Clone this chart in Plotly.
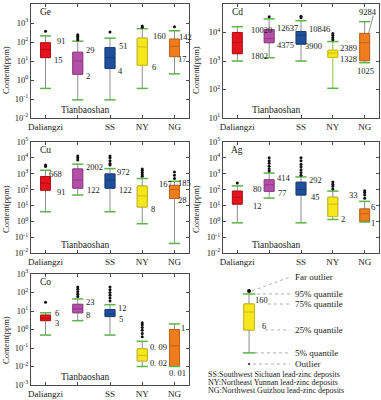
import math
import plotly.graph_objects as go

# ---------------- data ----------------
groups = ["Daliangzi", "Tianbaoshan", "SS", "NY", "NG"]
tick_text = ["Daliangzi", "", "SS", "NY", "NG"]
fill_colors = ["#e3141b", "#b44fa8", "#1d4f9b", "#f5e71c", "#ef7d1d"]
edge_colors = ["#b80f15", "#8f3a86", "#163d78", "#cdbd10", "#c2621a"]

# Ge
ge_q1 = [15, 2, 4, 6, 17]
ge_med = [40, 10, 15, 55, 60]
ge_q3 = [91, 29, 51, 160, 142]
ge_lo = [0.36, 0.09, 0.09, 0.36, 2.1]
ge_hi = [210, 110, 160, 500, 390]
ge_out = [[370], [130, 160, 200, 240], [340], [600, 700], [640]]
ge_lab_hi = ["91", "29", "51", "160", "142"]
ge_lab_lo = ["15", "2", "4", "6", "17"]

# Cd
cd_q1 = [1802, 4375, 3900, 1328, 1025]
cd_med = [4500, 6100, 8000, 1900, 4400]
cd_q3 = [10020, 12637, 10846, 2389, 9284]
cd_lo = [1000, 1300, 1000, 110, 870]
cd_hi = [16000, 30000, 26000, 4800, 24000]
cd_out = [[], [36000], [33000, 37000], [5600, 6600, 7800, 9300], []]
cd_lab_hi = ["10020", "12637", "10846", "2389", "9284"]
cd_lab_lo = ["1802", "4375", "3900", "1328", "1025"]

# Cu
cu_q1 = [91, 122, 122, 8, 28]
cu_med = [250, 400, 400, 40, 100]
cu_q3 = [668, 2002, 972, 167, 185]
cu_lo = [4, 45, 4, 0.7, 0.04]
cu_hi = [1650, 4000, 2100, 500, 330]
cu_out = [[2800, 3500], [7400, 10000, 13000], [3500, 4400, 6500, 10000, 13000],
          [700, 900, 1200, 1600, 2000], [500, 800, 1300]]
cu_lab_hi = ["668", "2002", "972", "167", "185"]
cu_lab_lo = ["91", "122", "122", "8", "28"]

# Ag
ag_q1 = [12, 77, 45, 2, 1]
ag_med = [32, 200, 100, 12, 3]
ag_q3 = [80, 414, 292, 33, 6]
ag_lo = [0.8, 29, 0.8, 1.3, 0.9]
ag_hi = [170, 1100, 630, 80, 18]
ag_out = [[260], [1500, 2000, 3000, 4500, 6500, 10000],
          [800, 1200, 1800, 2700, 4000, 6500, 10000],
          [110, 160, 220, 300], [28, 45, 65, 85]]
ag_lab_hi = ["80", "414", "292", "33", "6"]
ag_lab_lo = ["12", "77", "45", "2", "1"]

# Co
co_q1 = [3, 8, 5, 0.02, 0.01]
co_med = [4, 13, 7, 0.04, 0.13]
co_q3 = [6, 23, 12, 0.09, 1]
co_lo = [0.5, 3, 0.5, 0.01, 0.01]
co_hi = [8, 45, 22, 0.23, 2]
co_out = [[30], [60, 80, 110, 150, 200], [35, 50, 70, 100, 140, 200],
          [0.4, 0.6, 0.9, 1.3, 1.8, 2.3], []]
co_lab_hi = ["6", "23", "12", "0. 09", "1"]
co_lab_lo = ["3", "8", "5", "0. 02", "0. 01"]

# legend sample (quantiles of an example box)
key_q1, key_med, key_q3 = 6, 58, 160
key_lo, key_hi = 0.33, 570
key_far, key_outlier = 830, 0.08
key_texts = ["Far outlier", "95% quantile", "75% quantile", "25% quantile", "5% quantile", "Outlier"]
note_lines = ["SS:Southwest Sichuan lead-zinc deposits",
              "NY:Northeast Yunnan lead-zinc deposits",
              "NG:Northwest Guizhou lead-zinc deposits"]

# ---------------- style ----------------
FONT = "Liberation Serif, Times New Roman, serif"
TXT = "#1a1a1a"
FRAME = "#4a4a4a"
WHISK = "#8c8c8c"
CAP = "#5cb346"
W, H = 381, 400
BOXW = 0.31
VAL_FS = 8.5

fig = go.Figure()
annotations = []


def ax_names(n):
    s = "" if n == 1 else str(n)
    return "x" + s, "y" + s, "xaxis" + s, "yaxis" + s


def add_panel(n, title, q1, med, q3, lo, hi, out, lab_hi, lab_lo,
              dx_hi, dx_lo, whisk_colors=None, skip_hi=(), skip_lo=()):
    xr, yr, _, _ = ax_names(n)
    for i in range(5):
        wc = whisk_colors[i] if whisk_colors else WHISK
        fig.add_trace(go.Box(x=[i], q1=[q1[i]], median=[med[i]], q3=[q3[i]],
                             lowerfence=[lo[i]], upperfence=[hi[i]],
                             width=BOXW, whiskerwidth=0, fillcolor="rgba(0,0,0,0)",
                             line=dict(color=wc, width=1), xaxis=xr, yaxis=yr,
                             showlegend=False, hoverinfo="skip", boxpoints=False))
        fig.add_trace(go.Box(x=[i], q1=[q1[i]], median=[med[i]], q3=[q3[i]],
                             lowerfence=[q1[i]], upperfence=[q3[i]],
                             width=BOXW, whiskerwidth=0, fillcolor=fill_colors[i],
                             line=dict(color=edge_colors[i], width=1), xaxis=xr, yaxis=yr,
                             showlegend=False, hoverinfo="skip", boxpoints=False))
        fig.add_trace(go.Scatter(x=[i, i], y=[lo[i], hi[i]], mode="markers",
                                 marker=dict(symbol="line-ew", size=8,
                                             line=dict(color=CAP, width=1.5)),
                                 xaxis=xr, yaxis=yr, showlegend=False, hoverinfo="skip"))
        if out[i]:
            fig.add_trace(go.Scatter(x=[i] * len(out[i]), y=out[i], mode="markers",
                                     marker=dict(size=3, color="#111111"),
                                     xaxis=xr, yaxis=yr, showlegend=False, hoverinfo="skip"))
        if i not in skip_hi:
            annotations.append(dict(x=i + dx_hi[i], y=math.log10(q3[i]), xref=xr, yref=yr,
                                    text=lab_hi[i], showarrow=False, xanchor="left",
                                    yanchor="middle", yshift=2,
                                    font=dict(family=FONT, size=VAL_FS, color=TXT)))
        if i not in skip_lo:
            annotations.append(dict(x=i + dx_lo[i], y=math.log10(q1[i]), xref=xr, yref=yr,
                                    text=lab_lo[i], showarrow=False, xanchor="left",
                                    yanchor="middle", yshift=-2,
                                    font=dict(family=FONT, size=VAL_FS, color=TXT)))
    annotations.append(dict(x=0.0, y=0.93, xref=xr, yref=yr + " domain", text=title,
                            showarrow=False, xanchor="center", yanchor="middle",
                            font=dict(family=FONT, size=9.5, color=TXT)))
    annotations.append(dict(x=1.23, y=0.07, xref=xr, yref=yr + " domain", text="Tianbaoshan",
                            showarrow=False, xanchor="center", yanchor="middle",
                            font=dict(family=FONT, size=9.5, color=TXT)))


add_panel(1, "Ge", ge_q1, ge_med, ge_q3, ge_lo, ge_hi, ge_out, ge_lab_hi, ge_lab_lo,
          [0.30, 0.19, 0.21, 0.28, 0.09], [0.20, 0.19, 0.18, 0.25, 0.05])
add_panel(2, "Cd", cd_q1, cd_med, cd_q3, cd_lo, cd_hi, cd_out, cd_lab_hi, cd_lab_lo,
          [0.36, 0.19, 0.19, 0.16, 0], [0.36, 0.19, 0.07, 0.16, 0],
          whisk_colors=[WHISK, WHISK, WHISK, "#8dc63f", WHISK], skip_hi=(4,), skip_lo=(4,))
add_panel(3, "Cu", cu_q1, cu_med, cu_q3, cu_lo, cu_hi, cu_out, cu_lab_hi, cu_lab_lo,
          [0.06, 0.19, 0.17, 0.46, 0.05], [0.30, 0.23, 0.22, 0.20, 0.05])
add_panel(4, "Ag", ag_q1, ag_med, ag_q3, ag_lo, ag_hi, ag_out, ag_lab_hi, ag_lab_lo,
          [0.44, 0.19, 0.19, 0.43, 0.14], [0.44, 0.22, 0.25, 0.19, 0.14])
add_panel(5, "Co", co_q1, co_med, co_q3, co_lo, co_hi, co_out, co_lab_hi, co_lab_lo,
          [0.24, 0.19, 0.18, 0.17, 0.15], [0.24, 0.19, 0.22, 0.17, 0], skip_lo=(4,))

# special labels: Cd NG and Co NG
annotations.append(dict(x=4.12, y=math.log10(51000), xref="x2", yref="y2", text=cd_lab_hi[4],
                        showarrow=False, xanchor="center", yanchor="middle",
                        font=dict(family=FONT, size=VAL_FS, color=TXT)))
fig.add_trace(go.Scatter(x=[4.12, 4.27], y=[cd_q3[4], 39000], mode="lines",
                         line=dict(color="#777777", width=0.8), xaxis="x2", yaxis="y2",
                         showlegend=False, hoverinfo="skip"))
annotations.append(dict(x=4.02, y=math.log10(450), xref="x2", yref="y2", text=cd_lab_lo[4],
                        showarrow=False, xanchor="center", yanchor="middle",
                        font=dict(family=FONT, size=VAL_FS, color=TXT)))
annotations.append(dict(x=4.1, y=math.log10(0.0043), xref="x5", yref="y5", text=co_lab_lo[4],
                        showarrow=False, xanchor="center", yanchor="middle",
                        font=dict(family=FONT, size=VAL_FS, color=TXT)))

# ---------------- legend key panel (axis 6) ----------------
kx = 1.67
KEYW = 0.68
fig.add_trace(go.Box(x=[kx], q1=[key_q1], median=[key_med], q3=[key_q3],
                     lowerfence=[key_lo], upperfence=[key_hi], width=KEYW, whiskerwidth=0,
                     fillcolor="rgba(0,0,0,0)", line=dict(color=WHISK, width=1),
                     xaxis="x6", yaxis="y6", showlegend=False, hoverinfo="skip", boxpoints=False))
fig.add_trace(go.Box(x=[kx], q1=[key_q1], median=[key_med], q3=[key_q3],
                     lowerfence=[key_q1], upperfence=[key_q3], width=KEYW, whiskerwidth=0,
                     fillcolor=fill_colors[3], line=dict(color=edge_colors[3], width=1),
                     xaxis="x6", yaxis="y6", showlegend=False, hoverinfo="skip", boxpoints=False))
fig.add_trace(go.Scatter(x=[kx, kx], y=[key_lo, key_hi], mode="markers",
                         marker=dict(symbol="line-ew", size=9, line=dict(color=CAP, width=1.5)),
                         xaxis="x6", yaxis="y6", showlegend=False, hoverinfo="skip"))
fig.add_trace(go.Scatter(x=[kx], y=[key_far], mode="markers",
                         marker=dict(size=4, color="#111111"),
                         xaxis="x6", yaxis="y6", showlegend=False, hoverinfo="skip"))
fig.add_trace(go.Scatter(x=[kx], y=[key_outlier], mode="markers",
                         marker=dict(size=2.5, color="#555555"),
                         xaxis="x6", yaxis="y6", showlegend=False, hoverinfo="skip"))
key_levels = [10 ** 3.687, key_hi, key_q3, key_q1, key_lo, key_outlier]
lead_start_x = [1.86, 2.18, 2.88, 2.70, 2.05, 1.92]
lead_start_y = [key_far, key_hi, key_q3, key_q1, key_lo, key_outlier]
for t, yv, sx, sy in zip(key_texts, key_levels, lead_start_x, lead_start_y):
    fig.add_trace(go.Scatter(x=[sx, 4.29], y=[sy, yv], mode="lines",
                             line=dict(color="#9a9a9a", width=0.8, dash="dot"),
                             xaxis="x6", yaxis="y6", showlegend=False, hoverinfo="skip"))
    annotations.append(dict(x=4.49, y=math.log10(yv), xref="x6", yref="y6", text=t,
                            showarrow=False, xanchor="left", yanchor="middle",
                            font=dict(family=FONT, size=9, color=TXT)))
annotations.append(dict(x=1.92, y=math.log10(key_q3) + 0.22, xref="x6", yref="y6",
                        text=str(key_q3), showarrow=False, xanchor="left", yanchor="middle",
                        font=dict(family=FONT, size=8.5, color=TXT)))
annotations.append(dict(x=2.37, y=math.log10(key_q1) + 0.22, xref="x6", yref="y6",
                        text=str(key_q1), showarrow=False, xanchor="left", yanchor="middle",
                        font=dict(family=FONT, size=8.5, color=TXT)))
for k, line in enumerate(note_lines):
    annotations.append(dict(x=206 / W, y=[0.065, 0.045, 0.025][k], xref="paper", yref="paper",
                            text=line, showarrow=False, xanchor="left", yanchor="middle",
                            font=dict(family=FONT, size=8, color=TXT)))

# y titles
for xpx, ypx in [(6, 70), (196, 70), (6, 209), (196, 209), (6, 340)]:
    annotations.append(dict(x=xpx / W, y=1 - ypx / H, xref="paper", yref="paper",
                            text="Content(ppm)", textangle=-90, showarrow=False,
                            xanchor="center", yanchor="middle",
                            font=dict(family=FONT, size=8.5, color=TXT)))

# ---------------- axes ----------------
left = [31 / W, 189 / W]
right = [223 / W, 379 / W]
rows = [[1 - 118 / H, 1 - 4 / H], [1 - 253 / H, 1 - 142 / H], [1 - 385 / H, 1 - 274 / H]]
yranges = {1: (-2, 4), 2: (1, 5), 3: (-2, 5), 4: (-2, 5), 5: (-3, 3)}
doms = {1: (left, rows[0]), 2: (right, rows[0]), 3: (left, rows[1]),
        4: (right, rows[1]), 5: (left, rows[2])}

layout_axes = {}
for n in range(1, 6):
    xr, yr, xk, yk = ax_names(n)
    xd, yd = doms[n]
    lo_e, hi_e = yranges[n]
    layout_axes[xk] = dict(domain=xd, anchor=yr, range=[-0.45, 4.45],
                           tickvals=[0, 1, 2, 3, 4], ticktext=tick_text,
                           showline=True, mirror="ticks", linecolor=FRAME, linewidth=1,
                           ticks="inside", ticklen=3, tickcolor=FRAME, showgrid=False,
                           zeroline=False, automargin=False,
                           tickfont=dict(family=FONT, size=9, color=TXT))
    layout_axes[yk] = dict(domain=yd, anchor=xr, type="log", range=[lo_e, hi_e],
                           tickvals=[10 ** k for k in range(lo_e, hi_e + 1)],
                           ticktext=["10<sup>%d</sup>" % k for k in range(lo_e, hi_e + 1)],
                           showline=True, mirror="ticks", linecolor=FRAME, linewidth=1,
                           ticks="inside", ticklen=3, tickcolor=FRAME, showgrid=False,
                           zeroline=False, automargin=False,
                           tickfont=dict(family=FONT, size=8.5, color=TXT))
layout_axes["xaxis6"] = dict(domain=right, anchor="y6", range=[0, 10], visible=False)
layout_axes["yaxis6"] = dict(domain=[0.025, 0.32], anchor="x6", type="log",
                             range=[-2.521, 3.962], visible=False)

fig.update_layout(width=W, height=H, margin=dict(l=0, r=0, t=0, b=0),
                  paper_bgcolor="white", plot_bgcolor="white", boxmode="overlay",
                  showlegend=False, annotations=annotations, **layout_axes)

fig.write_html("out.html", config={"displayModeBar": False},
               post_script="document.body.style.margin='0';document.body.style.overflow='hidden';")
